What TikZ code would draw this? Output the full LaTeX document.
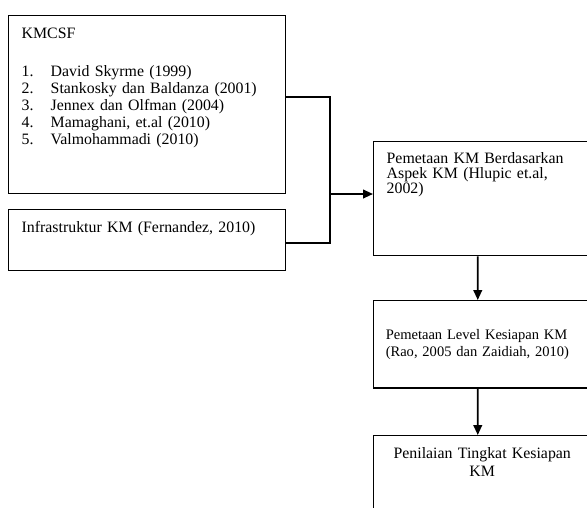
\documentclass[tikz,border=0pt]{standalone}
\usepackage{fontspec}
\setmainfont{Liberation Serif}
\usetikzlibrary{arrows.meta}

\begin{document}
\begin{tikzpicture}[x=0.757pt, y=-0.757pt,
  box/.style={draw, line width=1.1pt, anchor=north west, inner sep=0pt, align=left, font=\fontsize{12}{12.9}\selectfont},
  arrow/.style={-{Triangle[length=7.5pt,width=6.5pt]}, line width=1.4pt},
  link/.style={line width=1.4pt}
]
  \clip (0,0) rectangle (587,507);

  \node[box, text width=190.1pt, inner xsep=9.8pt, text height=17.4pt, text depth=117.3pt] (kmcsf) at (8,15) {KMCSF\\[15.9pt]
    \makebox[22pt][l]{1.}David Skyrme (1999)\\
    \makebox[22pt][l]{2.}Stankosky dan Baldanza (2001)\\
    \makebox[22pt][l]{3.}Jennex dan Olfman (2004)\\
    \makebox[22pt][l]{4.}Mamaghani, et.al (2010)\\
    \makebox[22pt][l]{5.}Valmohammadi (2010)};
  \node[box, text width=190.1pt, inner xsep=9.8pt, text height=17.2pt, text depth=29pt] (infra) at (8,209) {Infrastruktur KM (Fernandez, 2010)};

  \node[box, text width=144.7pt, inner xsep=9.8pt, text height=16.1pt, text depth=70.2pt, font=\fontsize{12}{11.4}\selectfont] (aspek) at (373,141) {Pemetaan KM Berdasarkan\\ Aspek KM (Hlupic et.al,\\ 2002)};
  \node[box, text width=146.1pt, inner xsep=9.1pt, minimum height=65.9pt, font=\fontsize{11}{12.6}\selectfont] (level) at (373,300) {Pemetaan Level Kesiapan KM\\ (Rao, 2005 dan Zaidiah, 2010)};
  \node[box, text width=164.3pt, align=center, text height=17.6pt, text depth=70pt, font=\fontsize{12}{13}\selectfont] (nilai) at (373,435) {Penilaian Tingkat Kesiapan\\ KM};

  \coordinate (join) at (330,194);
  \draw[link] ([yshift=-1.9pt]infra.east) -| (join);
  \draw[arrow] ([yshift=6pt]kmcsf.east) -| (join) -- (join -| aspek.west);
  \draw[arrow] ([xshift=-3.4pt]aspek.south) -- ([xshift=-3.4pt]level.north);
  \draw[arrow] ([xshift=-3.4pt]level.south) -- ([xshift=-3.4pt]nilai.north);
\end{tikzpicture}
\end{document}
